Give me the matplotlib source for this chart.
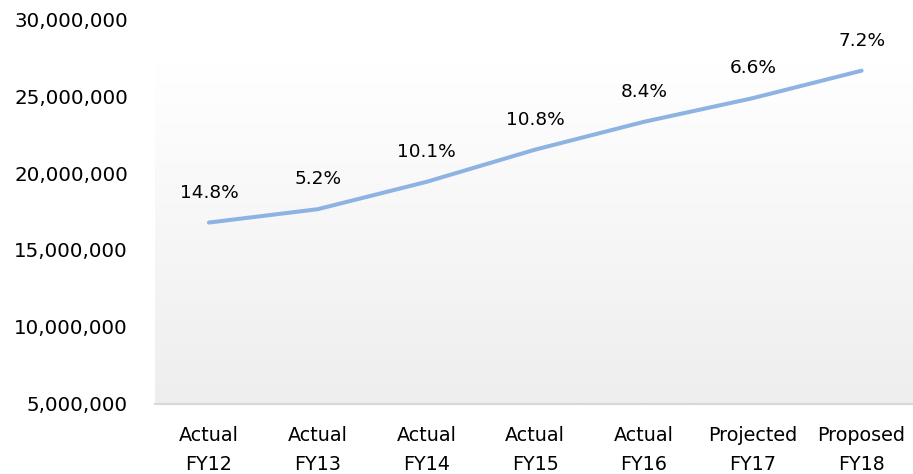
import matplotlib
matplotlib.use("Agg")
import matplotlib.pyplot as plt
import numpy as np
from matplotlib.ticker import FuncFormatter

categories = ["Actual\nFY12", "Actual\nFY13", "Actual\nFY14", "Actual\nFY15",
              "Actual\nFY16", "Projected\nFY17", "Proposed\nFY18"]
values = [16_780_000, 17_650_000, 19_430_000, 21_530_000,
          23_340_000, 24_880_000, 26_670_000]
growth_labels = ["14.8%", "5.2%", "10.1%", "10.8%", "8.4%", "6.6%", "7.2%"]
y_ticks = [5_000_000, 10_000_000, 15_000_000, 20_000_000, 25_000_000, 30_000_000]

plt.rcParams['font.family'] = ['DejaVu Sans']

fig = plt.figure(figsize=(9.13, 4.74), dpi=100)
ax = fig.add_axes([154.5 / 913, (474 - 403.5) / 474, (916 - 154.5) / 913, (403.5 - 19.5) / 474])

x = np.arange(len(categories))
ax.set_xlim(-0.5, len(categories) - 0.5)
ax.set_ylim(5_000_000, 30_000_000)

# gradient background (plot area)
top_frac = (403.5 - 63) / (403.5 - 19.5)
grad = np.linspace(0, 1, 256).reshape(-1, 1)
c_top = np.array([1.0, 1.0, 1.0])
c_bot = np.array([0xee, 0xee, 0xee]) / 255.0
img = c_bot[None, None, :] * (1 - grad[:, :, None]) + c_top[None, None, :] * grad[:, :, None]
ax.imshow(img, extent=[0, 1, 0, top_frac], transform=ax.transAxes,
          aspect='auto', origin='lower', zorder=0)

ax.plot(x, values, color='#8db3e2', linewidth=2.9, solid_capstyle='round', zorder=3)

for xi, v, lab in zip(x, values, growth_labels):
    ax.annotate(lab, (xi, v), xytext=(0, 30), textcoords='offset pixels',
                ha='center', va='center', fontsize=13.3, color='black', zorder=4)

ax.set_xticks(x)
ax.set_xticklabels(categories, fontsize=13.8, linespacing=1.7)
ax.set_yticks(y_ticks)
ax.yaxis.set_major_formatter(FuncFormatter(lambda v, p: f"{int(v):,}"))
ax.tick_params(axis='y', labelsize=14.3, length=0, pad=19)
ax.tick_params(axis='x', length=0, pad=16)

for s in ['top', 'right', 'left']:
    ax.spines[s].set_visible(False)
ax.spines['bottom'].set_color('#d9d9d9')
ax.spines['bottom'].set_linewidth(1.6)
ax.spines['bottom'].set_zorder(5)

fig.savefig("out.png", dpi=100)
